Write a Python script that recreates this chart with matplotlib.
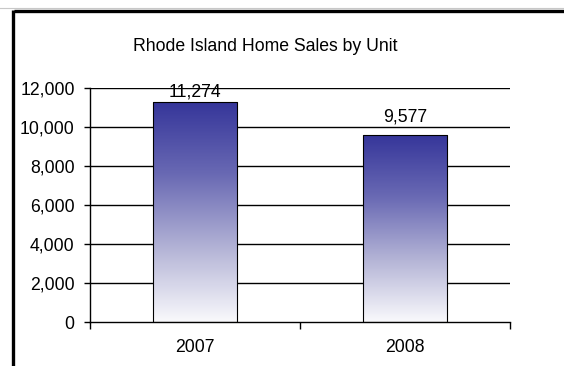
import numpy as np
import matplotlib.pyplot as plt
from matplotlib.colors import LinearSegmentedColormap
from matplotlib.ticker import FixedLocator, FuncFormatter

plt.rcParams["font.family"] = ["Liberation Sans", "DejaVu Sans"]

years = ["2007", "2008"]
sales = [11274, 9577]
y_ticks = [0, 2000, 4000, 6000, 8000, 10000, 12000]

fs = 12.7

fig = plt.figure(figsize=[5.64, 3.66], dpi=100)

# frame around the chart (only top and left edges show)
fig.add_artist(plt.Line2D([0.0, 1.0], [0.9795, 0.9795], transform=fig.transFigure,
                          color="#c8c8c8", lw=0.8))
fig.add_artist(plt.Line2D([0.024, 1.0], [0.9713, 0.9713], transform=fig.transFigure,
                          color="black", lw=2.4, solid_capstyle="butt"))
fig.add_artist(plt.Line2D([0.0239, 0.0239], [0.0, 0.9735], transform=fig.transFigure,
                          color="black", lw=2.4, solid_capstyle="butt"))

ax = fig.add_axes([0.1596, 0.1202, 0.7447, 0.6394])
x = np.arange(len(years))

for v in y_ticks[1:]:
    ax.axhline(v, color="black", lw=1.0, zorder=1)

cmap = LinearSegmentedColormap.from_list("bar", ["#f9f9fc", "#b4b4d6", "#6a6ab4", "#36369a"])
grad = np.linspace(0, 1, 256).reshape(-1, 1)
width = 0.4
for xi, v in zip(x, sales):
    ax.imshow(grad, cmap=cmap, aspect="auto", origin="lower",
              extent=[xi - width / 2, xi + width / 2, 0, v], zorder=2)
    ax.bar(xi, v, width=width, facecolor="none", edgecolor="black", lw=0.8, zorder=3)
    # label sits above the bar but is kept inside the plot area
    ax.text(xi, min(v + 500, 11350), f"{v:,}", ha="center", va="bottom", fontsize=fs)

ax.set_xlim(-0.5, 1.5)
ax.set_ylim(0, 12000)

for side in ["top", "right"]:
    ax.spines[side].set_visible(False)
ax.spines["left"].set_linewidth(1.0)
ax.spines["bottom"].set_linewidth(1.0)

ax.yaxis.set_major_locator(FixedLocator(y_ticks))
ax.yaxis.set_major_formatter(FuncFormatter(lambda v, p: f"{int(v):,}"))
ax.tick_params(axis="y", direction="out", length=4, width=1, labelsize=fs, pad=7)

ax.set_xticks(x)
ax.set_xticklabels(years)
ax.xaxis.set_minor_locator(FixedLocator([-0.5, 0.5, 1.5]))
ax.tick_params(axis="x", which="major", length=0, labelsize=fs, pad=12)
ax.tick_params(axis="x", which="minor", direction="out", length=5, width=1)

fig.text(0.47, 0.872, "Rhode Island Home Sales by Unit", ha="center", va="center", fontsize=fs)

fig.savefig("out.png", dpi=100)
